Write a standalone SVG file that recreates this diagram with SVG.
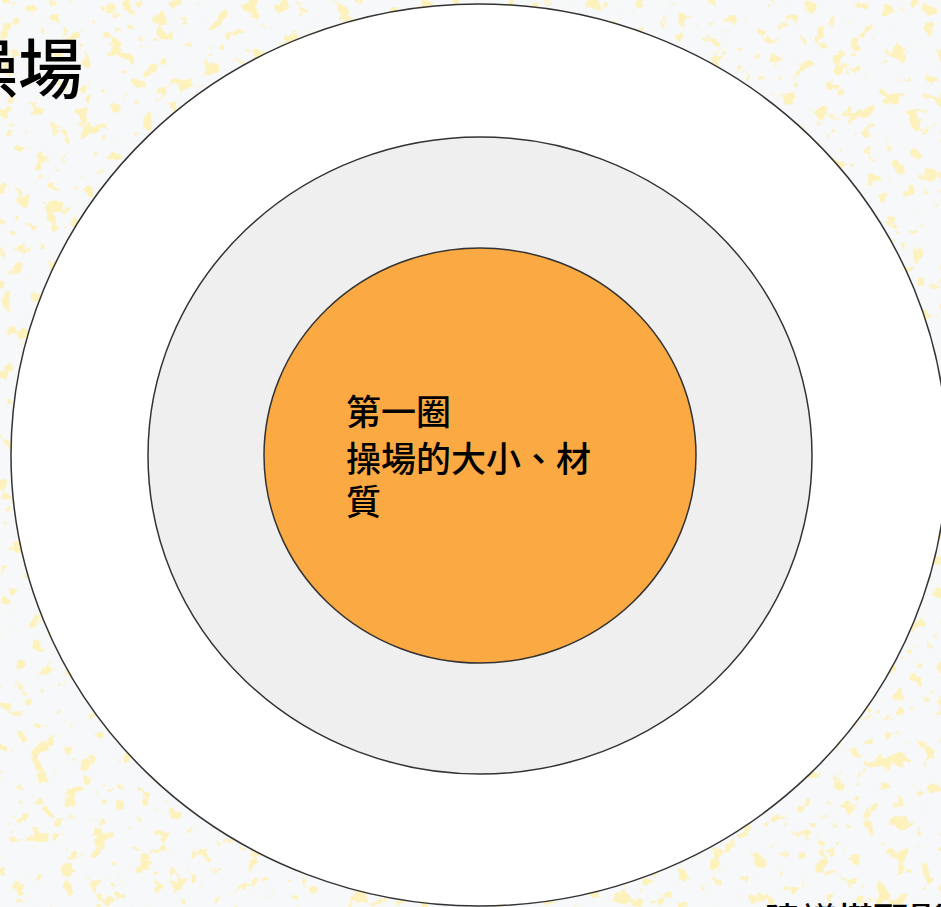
<svg xmlns="http://www.w3.org/2000/svg" width="941" height="907" viewBox="0 0 941 907">
<defs>
<filter id="speck" x="0" y="0" width="100%" height="100%" filterUnits="userSpaceOnUse">
<feTurbulence type="fractalNoise" baseFrequency="0.065" numOctaves="3" seed="7" result="n"/>
<feColorMatrix in="n" type="matrix" values="0 0 0 0 0.98  0 0 0 0 0.88  0 0 0 0 0.5  14 0 0 0 -8.4"/>
</filter>
<style>
.ring{stroke:#333333;stroke-width:1.5}
.t{font-family:"Noto Sans CJK TC","Noto Sans CJK SC",sans-serif;fill:#000;font-weight:500}
</style>
</defs>
<rect width="941" height="907" fill="#F7F8FA"/>
<rect width="941" height="907" filter="url(#speck)"/>
<text class="t" x="-47" y="93" font-size="65">操場</text>
<text class="t" x="765" y="934" font-size="36">建議搭配影</text>
<g id="outer"><ellipse class="ring" cx="479" cy="455" rx="468" ry="451" fill="#FFFFFF"/></g>
<g id="middle"><ellipse class="ring" cx="480" cy="455.5" rx="332" ry="318.5" fill="#EFEFEF"/></g>
<g id="inner"><ellipse class="ring" cx="480" cy="455.5" rx="216" ry="207.5" fill="#FBA943"/>
<text class="t" font-size="35"><tspan x="346" y="425">第一圈</tspan><tspan x="346" y="472">操場的大小、材</tspan><tspan x="346" y="515">質</tspan></text>
</g>
<g id="connectors"/>
</svg>
